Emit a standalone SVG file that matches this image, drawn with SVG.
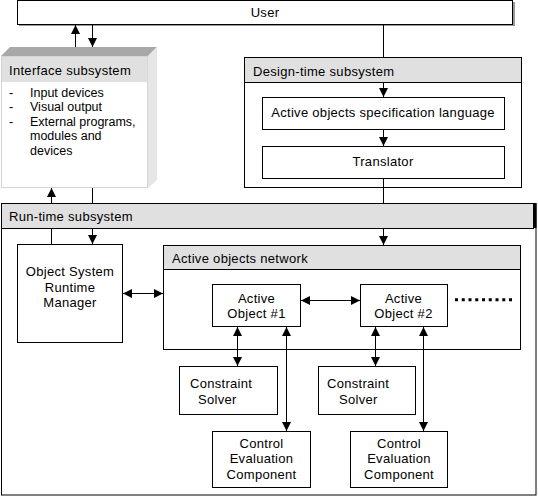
<svg xmlns="http://www.w3.org/2000/svg" width="538" height="496" viewBox="0 0 538 496">
<style>
text{font-family:"Liberation Sans",Arial,sans-serif;font-size:13px;letter-spacing:0.3px;fill:#000}
.c{text-anchor:middle}
.li{font-size:12.5px;letter-spacing:0}
.box{fill:#fff;stroke:#000;stroke-width:1}
.hdr{fill:#e0e0e0;stroke:#000;stroke-width:1}
.ln{stroke:#000;stroke-width:1;fill:none}
.a{marker-end:url(#ah)}
.b{marker-start:url(#ah);marker-end:url(#ah)}
</style>
<defs>
<marker id="ah" markerUnits="userSpaceOnUse" markerWidth="9" markerHeight="9" refX="8" refY="4" orient="auto-start-reverse" viewBox="0 0 8 8">
<path d="M0,0 L8,4 L0,8 z" fill="#000"/>
</marker>
</defs>
<rect width="538" height="496" fill="#fff"/>

<g id="user">
<rect x="19" y="2" width="496" height="24" fill="#999"/>
<rect x="17.5" y="0.5" width="495" height="24" class="box"/>
<text x="265" y="17" class="c">User</text>
</g>

<g id="interface">
<polygon points="1,56 10,47 157,47 148,56" fill="#a8a8a8"/>
<polygon points="148,56 157,47 157,180 148,188" fill="#e6e6e6"/>
<rect x="1.5" y="56.5" width="146" height="131" fill="#fff" stroke="#d4d4d4"/>
<rect x="2" y="57" width="145.5" height="25" fill="#e0e0e0"/>
<text x="9" y="75">Interface subsystem</text>
<text x="9" y="97" class="li">-</text><text x="30" y="97" class="li">Input devices</text>
<text x="9" y="111" class="li">-</text><text x="30" y="111" class="li">Visual output</text>
<text x="9" y="126" class="li">-</text><text x="30" y="126" class="li">External programs,</text>
<text x="30" y="140" class="li">modules and</text>
<text x="30" y="155" class="li">devices</text>
</g>

<g id="design">
<rect x="244.5" y="57.5" width="277" height="130" class="box"/>
<rect x="244.5" y="57.5" width="277" height="25" class="hdr"/>
<text x="253" y="76">Design-time subsystem</text>
</g>
<g id="spec">
<rect x="262.5" y="97.5" width="242" height="32" class="box"/>
<text x="383" y="117" class="c">Active objects specification language</text>
</g>
<g id="translator">
<rect x="262.5" y="146.5" width="242" height="32" class="box"/>
<text x="383" y="166" class="c">Translator</text>
</g>

<g id="runtime">
<rect x="1.5" y="203.5" width="534.5" height="291.5" class="box"/>
<rect x="1.5" y="203.5" width="532" height="25" class="hdr"/>
<rect x="533.5" y="203" width="3" height="25" fill="#000"/>
<text x="9" y="221">Run-time subsystem</text>
</g>

<g id="osrm">
<rect x="17.5" y="244.5" width="105" height="98" class="box"/>
<text x="70" y="276" class="c">Object System</text>
<text x="70" y="292" class="c">Runtime</text>
<text x="70" y="307" class="c">Manager</text>
</g>

<g id="network">
<rect x="163.5" y="245.5" width="357" height="104" class="box"/>
<rect x="163.5" y="245.5" width="357" height="24" class="hdr"/>
<text x="172" y="263">Active objects network</text>
</g>

<g id="ao1">
<rect x="212.5" y="284.5" width="88" height="42" class="box"/>
<text x="256.5" y="303" class="c">Active</text>
<text x="256.5" y="318" class="c">Object #1</text>
</g>
<g id="ao2">
<rect x="360.5" y="284.5" width="87" height="42" class="box"/>
<text x="403.5" y="303" class="c">Active</text>
<text x="403.5" y="318" class="c">Object #2</text>
</g>
<g id="more">
<line x1="455" y1="299.8" x2="512" y2="299.8" stroke="#000" stroke-width="3" stroke-dasharray="3 3.75"/>
</g>

<g id="cs1">
<rect x="179.5" y="366.5" width="98" height="48" class="box"/>
<text x="190" y="388">Constraint</text>
<text x="198" y="404">Solver</text>
</g>
<g id="cs2">
<rect x="318.5" y="366.5" width="97" height="48" class="box"/>
<text x="327" y="388">Constraint</text>
<text x="339" y="404">Solver</text>
</g>
<g id="cec1">
<rect x="212.5" y="431.5" width="98" height="56" class="box"/>
<text x="261.5" y="448" class="c">Control</text>
<text x="261.5" y="463" class="c">Evaluation</text>
<text x="261.5" y="479" class="c">Component</text>
</g>
<g id="cec2">
<rect x="350.5" y="431.5" width="97" height="56" class="box"/>
<text x="399" y="448" class="c">Control</text>
<text x="399" y="463" class="c">Evaluation</text>
<text x="399" y="479" class="c">Component</text>
</g>

<g id="connectors">
<line x1="75.5" y1="47" x2="75.5" y2="25" class="ln a"/>
<line x1="92.5" y1="25" x2="92.5" y2="47" class="ln a"/>
<line x1="51.5" y1="203" x2="51.5" y2="188" class="ln a"/>
<line x1="92.5" y1="188" x2="92.5" y2="203" class="ln"/>
<line x1="51.5" y1="229" x2="51.5" y2="244" class="ln"/>
<line x1="92.5" y1="229" x2="92.5" y2="244" class="ln a"/>
<line x1="383.5" y1="25" x2="383.5" y2="57" class="ln"/>
<line x1="383.5" y1="83" x2="383.5" y2="97" class="ln a"/>
<line x1="383.5" y1="130" x2="383.5" y2="146" class="ln a"/>
<line x1="383.5" y1="179" x2="383.5" y2="203" class="ln"/>
<line x1="383.5" y1="229" x2="383.5" y2="245" class="ln a"/>
<line x1="123" y1="293.5" x2="163" y2="293.5" class="ln b"/>
<line x1="301" y1="300.5" x2="360" y2="300.5" class="ln b"/>
<line x1="237.5" y1="327" x2="237.5" y2="366" class="ln b"/>
<line x1="286.5" y1="327" x2="286.5" y2="431" class="ln b"/>
<line x1="375.5" y1="327" x2="375.5" y2="366" class="ln b"/>
<line x1="423.5" y1="327" x2="423.5" y2="431" class="ln b"/>
</g>
</svg>
